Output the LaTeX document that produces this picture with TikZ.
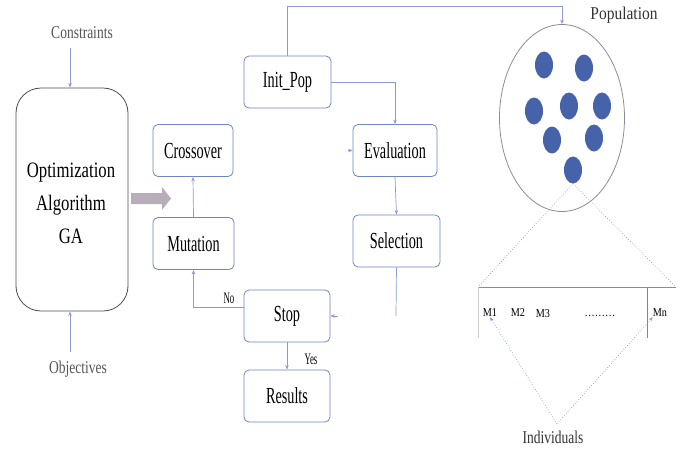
\documentclass[tikz,border=0pt]{standalone}
\usepackage{fontspec}
\setmainfont{Liberation Serif}
\usetikzlibrary{shapes.geometric,arrows.meta}
\definecolor{boxc}{HTML}{6F84C2}
\definecolor{lnc}{HTML}{8A9CCF}
\definecolor{dotc}{HTML}{4662A8}
\definecolor{ringc}{HTML}{8E8A94}
\definecolor{graytx}{HTML}{555555}
\definecolor{arrc}{HTML}{B8AEBA}
\newcommand{\sq}[2]{\scalebox{#1}[1]{#2}}
\begin{document}
\begin{tikzpicture}[x=1pt,y=-1pt,
 stepbox/.style={draw=boxc, line width=0.8pt, rounded corners=5pt, fill=white,
   minimum width=85pt, minimum height=52pt, inner sep=0pt,
   font=\fontsize{23}{25}\selectfont},
 conn/.style={draw=lnc, line width=0.7pt},
 arr/.style={conn,-{Stealth[length=4.5pt,width=3.5pt]}},
 dotl/.style={draw=lnc, line width=0.7pt, dotted},
 lbl/.style={font=\fontsize{18}{20}\selectfont, text=graytx, inner sep=0pt},
 small/.style={font=\fontsize{12}{14}\selectfont, inner sep=0pt},
 member/.style={fill=dotc, draw=none, ellipse, minimum width=18pt, minimum height=27pt, inner sep=0pt},
]
\useasboundingbox (0,0) rectangle (678,453);

% left block
\node[draw=black!70, line width=0.8pt, rounded corners=25pt, minimum width=112pt, minimum height=223pt, inner sep=0pt] (ga) at (72,199.5) {};
\node[align=center, inner sep=0pt, font=\fontsize{22}{33}\selectfont] (gatext) at (71,203)
  {\sq{0.76}{Optimization}\\\sq{0.76}{Algorithm}\\\sq{0.76}{GA}};
\node[lbl] (cons) at (82,33) {\sq{0.75}{Constraints}};
\node[lbl] (obj) at (78,369) {\sq{0.75}{Objectives}};
\coordinate (consl) at (70,48);
\coordinate (objl) at (70,352);
\draw[arr] (consl) -- (consl |- ga.north);
\draw[arr] (objl) -- (objl |- ga.south);

% gray block arrow
\fill[arrc] (131,193) -- (162,193) -- (162,187) -- (171,198.5) -- (162,210) -- (162,204) -- (131,204) -- cycle;

% step boxes
\node[stepbox, minimum width=80pt] (cross) at (193,150.5) {\sq{0.62}{Crossover}};
\node[stepbox, minimum width=81pt] (mut) at (193.5,243.5) {\sq{0.62}{Mutation}};
\node[stepbox, minimum width=87pt] (init) at (287.5,82) {\sq{0.62}{Init\_Pop}};
\node[stepbox, minimum width=84pt] (eval) at (395,150.5) {\sq{0.62}{Evaluation}};
\node[stepbox, minimum width=87pt] (sel) at (396.5,241) {\sq{0.62}{Selection}};
\node[stepbox, minimum width=86pt] (stop) at (287,316) {\sq{0.62}{Stop}};
\node[stepbox, minimum width=86pt] (res) at (287,396) {\sq{0.62}{Results}};

% population
\node[draw=ringc, line width=0.8pt, ellipse, minimum width=125pt, minimum height=187pt, inner sep=0pt] (pop) at (562,118) {};
\node[lbl, text=black!80] (poplbl) at (624,15) {\sq{0.86}{Population}};
\node[member] (d1) at (544,65) {};
\node[member] (d2) at (584,68) {};
\node[member] (d3) at (534,111) {};
\node[member] (d4) at (569,106) {};
\node[member] (d5) at (602,106) {};
\node[member] (d6) at (552,140) {};
\node[member] (d7) at (594,138) {};
\node[member] (d8) at (573,170) {};

% connectors of the flow
\coordinate (topc) at (562,6);
\draw[arr] (init.north) |- (topc) -- (pop.north);
\draw[arr] (init.east) -| (eval.north);
\draw[arr] (eval.south) -- (sel.north);
\coordinate (selend) at (396,316);
\draw[conn] (sel.south) -- (selend);
\coordinate (evstub) at (348,150.5);
\draw[arr] (evstub) -- (eval.west);
\coordinate (ststub) at (338,316);
\draw[arr] (ststub) -- (stop.east);
\draw[arr] (stop.west |- {(0,307)}) -| (mut.south);
\draw[arr] (mut.north) -- (cross.south);
\draw[arr] (stop.south) -- (res.north);
\node[small, font=\fontsize{16}{18}\selectfont] (no) at (229,298) {\sq{0.55}{No}};
\node[small, font=\fontsize{16}{18}\selectfont] (yes) at (311,359) {\sq{0.55}{Yes}};

% chromosome
\coordinate (cl) at (478,287);
\coordinate (cr) at (676,287);
\coordinate (cbl) at (478,338);
\coordinate (sep) at (647,287);
\coordinate (sepb) at (647,338);
\draw[dotl] (d8.south) -- (cl);
\draw[dotl] (d8.south) -- (cr);
\draw[draw=black!45, line width=0.7pt] (cl) -- (cr);
\draw[draw=black!20, line width=0.6pt] (cl) -- (cbl);
\draw[draw=boxc, line width=0.8pt] (sep) -- (sepb);
\node[small] (m1) at (490,313) {\sq{0.85}{M1}};
\node[small] (m2) at (518,313) {\sq{0.85}{M2}};
\node[small] (m3) at (543,314) {\sq{0.85}{M3}};
\node[small] (mdots) at (600,316) {\sq{0.85}{\ldots\ldots\ldots}};
\node[small] (mn) at (660,313) {\sq{0.85}{Mn}};
\node[lbl, text=black!80] (ind) at (553,437) {\sq{0.75}{Individuals}};
\coordinate (indtop) at (557,424);
\draw[dotl, -{Stealth[length=4.5pt,width=3.5pt]}] (indtop) -- (m1.south);
\draw[dotl, -{Stealth[length=4.5pt,width=3.5pt]}] (indtop) -- (mn.south west);
\end{tikzpicture}
\end{document}
